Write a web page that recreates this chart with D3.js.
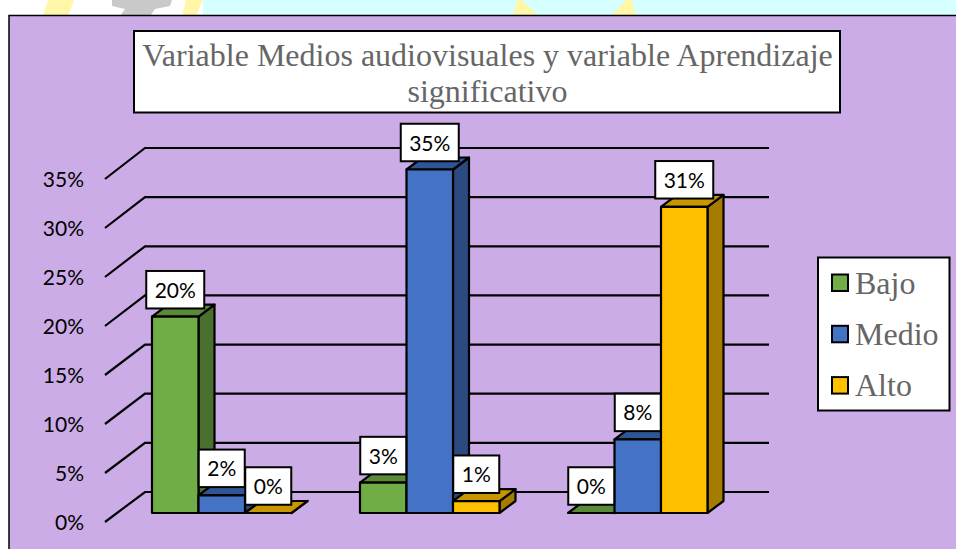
<!DOCTYPE html>
<html><head><meta charset="utf-8">
<script src="https://cdn.jsdelivr.net/npm/d3@7"></script>
<style>html,body{margin:0;padding:0;background:#fff;overflow:hidden}svg{display:block}</style>
</head><body><svg id="c" width="956" height="549"></svg>
<script>
const categories = ["Grupo 1","Grupo 2","Grupo 3"];
const seriesNames = ["Bajo","Medio","Alto"];
const bajo = [20, 3.1, 0];
const medio = [1.8, 35, 7.5];
const alto = [0, 1.2, 31.2];
const tickValues = [0,5,10,15,20,25,30,35];
const titleLines = ["Variable Medios audiovisuales y variable Aprendizaje","significativo"];
const seriesData = [bajo,medio,alto];
const front = ["#70ad47","#4472c4","#ffc000"];
const top_ = ["#5a8a39","#2f5597","#c79600"];
const side = ["#4a7030","#2b4a80","#a67c00"];

const svg = d3.select("#c");
const serif = "'Liberation Serif',serif", sans = "Lato,'Open Sans',sans-serif";
// background scraps above the chart
svg.append("rect").attr("width",956).attr("height",549).attr("fill","#fff");
svg.append("rect").attr("x",203).attr("width",753).attr("height",16).attr("fill","#d6ffff");
const scrap = (pts,fill)=>svg.append("polygon").attr("points",pts).attr("fill",fill);
scrap("62,0 74,0 68,16 43,16 48,0","#fff6a8");
scrap("186,0 203,0 196,16 182,16","#fff6a8");
scrap("518,0 522,0 538,16 512,16","#fff6a8");
scrap("626,0 632,0 636,16 611,16","#fff6a8");
scrap("112,0 172,0 170,6 155,9 150,16 120,16 125,9 112,6","#c9c9c9");
svg.append("rect").attr("x",9).attr("y",15.5).attr("width",960).attr("height",560).attr("fill","#ccace6").attr("stroke","#000").attr("stroke-width",1.5);

const y = d3.scaleLinear().domain([0,35]).range([513,169.5]);
const yBack = d3.scaleLinear().domain([0,35]).range([492,148]);
const yFront = d3.scaleLinear().domain([0,35]).range([522,179]);
const x0 = d3.scaleBand().domain(categories).range([152,776]);
const x1 = d3.scaleBand().domain(seriesNames).range([0,139.5]);
const bw = x1.bandwidth();

// axis gridlines
const grid = svg.append("g").attr("fill","none").attr("stroke","#000").attr("stroke-width",2.2);
tickValues.forEach(t=>{
  grid.append("path").attr("d",`M105,${yFront(t)}L145,${yBack(t)}L769,${yBack(t)}`);
  svg.append("text").attr("x",84).attr("y",yFront(t)+7.5).attr("text-anchor","end")
    .attr("font-family",sans).attr("font-size",21).attr("fill","#000").text(t+"%");
});

// bars
const dx=16, dy=12;
const labels=[];
categories.forEach((c,i)=>{
  seriesData.forEach((arr,s)=>{
    const v=arr[i], x=x0(c)+x1(seriesNames[s]), yt=y(v), b=y(0);
    const g=svg.append("g").attr("stroke","#000").attr("stroke-width",2.2).attr("stroke-linejoin","round");
    g.append("path").attr("fill",side[s]).attr("d",`M${x+bw},${b}L${x+bw+dx},${b-dy}L${x+bw+dx},${yt-dy}L${x+bw},${yt}Z`);
    g.append("path").attr("fill",top_[s]).attr("d",`M${x},${yt}L${x+dx},${yt-dy}L${x+bw+dx},${yt-dy}L${x+bw},${yt}Z`);
    if(v>0) g.append("rect").attr("x",x).attr("y",yt).attr("width",bw).attr("height",b-yt).attr("fill",front[s]);
    labels.push({v,x:x+bw/2,yt});
  });
});
// data labels
labels.forEach(l=>{
  const txt=Math.round(l.v)+"%";
  const w=txt.length>2?58:46,h=37.5,cx=l.x,cy=l.yt-27;
  svg.append("rect").attr("x",cx-w/2).attr("y",cy-h/2).attr("width",w).attr("height",h)
    .attr("fill","#fff").attr("stroke","#000").attr("stroke-width",2);
  svg.append("text").attr("x",cx).attr("y",cy+8).attr("text-anchor","middle")
    .attr("font-family",sans).attr("font-size",21).attr("fill","#000").text(txt);
});
// title
svg.append("rect").attr("x",134).attr("y",31).attr("width",706).attr("height",81.5).attr("fill","#fff").attr("stroke","#000").attr("stroke-width",2);
titleLines.forEach((t,i)=>svg.append("text").attr("x",487.5).attr("y",66+i*36).attr("text-anchor","middle")
  .attr("font-family",serif).attr("font-size",32).attr("fill","#666").text(t));
// legend
svg.append("rect").attr("x",818).attr("y",257.5).attr("width",131.5).attr("height",153).attr("fill","#fff").attr("stroke","#000").attr("stroke-width",2);
seriesNames.forEach((n,i)=>{
  const yy=283+i*51.3;
  svg.append("rect").attr("x",832).attr("y",yy-8.5).attr("width",16).attr("height",16.5).attr("fill",front[i]).attr("stroke","#000").attr("stroke-width",2);
  svg.append("text").attr("x",855).attr("y",yy+10.5).attr("font-family",serif).attr("font-size",32).attr("fill","#666").text(n);
});
</script></body></html>
